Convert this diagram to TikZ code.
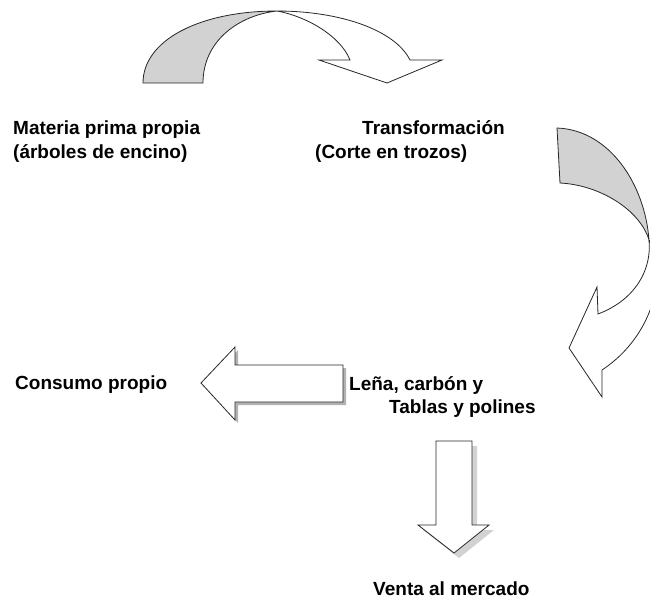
\documentclass[tikz,border=0pt]{standalone}
\usepackage{fontspec}
\setmainfont{Liberation Sans}
\begin{document}
\begin{tikzpicture}[x=1pt,y=-1pt,line join=miter,
  lbl/.style={anchor=base west,inner sep=0pt,font=\fontsize{19}{23}\selectfont\bfseries},
  back/.style={draw=black!85,fill=gray!35,thick},
  front/.style={draw=black!85,fill=white,thick}]
\useasboundingbox (0,0) rectangle (650,600);

% arco de arriba
\draw[back] (143,83) .. controls (143,40) and (200,11) .. (277,11)
  .. controls (240,15) and (203,40) .. (203,83) -- cycle;
\draw[front] (277,11) .. controls (340,11) and (395,30) .. (410,60)
  -- (442,60) -- (387,83) -- (319,60) -- (350,60)
  .. controls (340,35) and (305,16) .. (277,11);

% arco de la derecha
\draw[back] (557,128) .. controls (610,130) and (645,185) .. (649,240)
  .. controls (640,210) and (600,185) .. (560,183) -- cycle;
\draw[front] (649,240) .. controls (668,270) and (655,335) .. (602,370)
  -- (602,397) -- (569,348) -- (597,287) -- (598,314)
  .. controls (635,300) and (652,270) .. (649,240);

% flecha izquierda
\fill[gray!60,shift={(3,3)}] (201,383) -- (235,347) -- (235,365) -- (343,365)
  -- (343,402) -- (235,402) -- (235,420) -- cycle;
\draw[front] (201,383) -- (235,347) -- (235,365) -- (343,365)
  -- (343,402) -- (235,402) -- (235,420) -- cycle;

% flecha abajo
\fill[gray!35,shift={(5,5)}] (436,441) -- (472,441) -- (472,525) -- (489,525)
  -- (454,553) -- (418,525) -- (436,525) -- cycle;
\draw[front] (436,441) -- (472,441) -- (472,525) -- (489,525)
  -- (454,553) -- (418,525) -- (436,525) -- cycle;

\node[lbl] (materia) at (13,134) {Materia prima propia};
\node[lbl] (arboles) at (13,158) {(árboles de encino)};
\node[lbl] (transf) at (362,134) {Transformación};
\node[lbl] (corte) at (315,158) {(Corte en trozos)};
\node[lbl] (consumo) at (15,389) {Consumo propio};
\node[lbl] (lena) at (349,390) {Leña, carbón y};
\node[lbl] (tablas) at (389,413) {Tablas y polines};
\node[lbl] (venta) at (373,595) {Venta al mercado};
\end{tikzpicture}
\end{document}
